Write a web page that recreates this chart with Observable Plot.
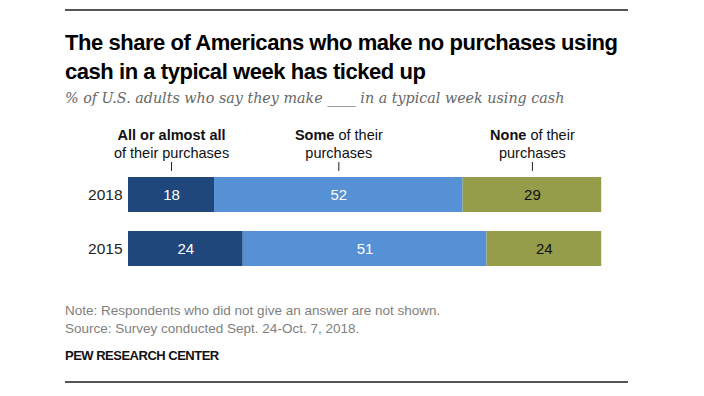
<!DOCTYPE html>
<html>
<head>
<meta charset="utf-8">
<script src="https://cdn.jsdelivr.net/npm/d3@7"></script>
<script src="https://cdn.jsdelivr.net/npm/@observablehq/plot@0.6"></script>
<style>
  html, body { margin: 0; padding: 0; background: #fff; }
  #wrap { position: relative; width: 704px; height: 396px; overflow: hidden; font-family: "Liberation Sans", Arial, sans-serif; }
  .rule { position: absolute; left: 65px; width: 563px; height: 2px; background: #555; }
  #title { position: absolute; left: 65px; top: 28px; font-family: "Liberation Sans", Arial, sans-serif; font-weight: bold; font-size: 22px; line-height: 29px; color: #000; white-space: nowrap; letter-spacing: -0.45px; }
  #subtitle { position: absolute; left: 65px; top: 90px; font-family: "DejaVu Serif", Georgia, serif; font-style: italic; font-size: 14.3px; color: #666; white-space: nowrap; }
  #chart { position: absolute; left: 0; top: 120px; }
  .note { position: absolute; left: 65px; font-size: 13.5px; color: #808080; white-space: nowrap; }
  #pew { position: absolute; left: 65px; top: 348px; font-size: 13px; font-weight: bold; color: #111; white-space: nowrap; letter-spacing: -0.5px; }
</style>
</head>
<body>
<div id="wrap">
  <div class="rule" style="top:9px"></div>
  <div id="title">The share of Americans who make no purchases using<br>cash in a typical week has ticked up</div>
  <div id="subtitle">% of U.S. adults who say they make ____ in a typical week using cash</div>
  <div id="chart"></div>
  <div class="note" style="top:303px">Note: Respondents who did not give an answer are not shown.</div>
  <div class="note" style="top:321px">Source: Survey conducted Sept. 24-Oct. 7, 2018.</div>
  <div id="pew">PEW RESEARCH CENTER</div>
  <div class="rule" style="top:381px"></div>
</div>
<script>
const years = ["2018", "2015"];
const categories = ["All or almost all", "Some", "None"];
const values2018 = [18, 52, 29];
const values2015 = [24, 51, 24];
const headerLine1 = ["All or almost all", "Some of their", "None of their"];
const headerLine2 = ["of their purchases", "purchases", "purchases"];
const headerBold = ["All or almost all", "Some", "None"];
const colors = ["#1f477b", "#5690d5", "#959c4a"];
const labelColors = ["#ffffff", "#ffffff", "#111111"];

const valuesByYear = {"2018": values2018, "2015": values2015};
const data = [];
for (const y of years) {
  categories.forEach((c, i) => data.push({year: y, category: c, value: valuesByYear[y][i], idx: i}));
}
const headerData = data.filter(d => d.year === "2018");

const chart = Plot.plot({
  width: 704,
  height: 156,
  marginTop: 57,
  marginBottom: 10,
  marginLeft: 128,
  marginRight: 98,
  style: {fontFamily: "'Liberation Sans', Arial, sans-serif", background: "transparent"},
  x: {domain: [0, 100], axis: null},
  y: {domain: years, paddingInner: 0.36, paddingOuter: 0, axis: null},
  color: {domain: categories, range: colors},
  marks: [
    Plot.barX(data, Plot.stackX({x: "value", y: "year", fill: "category"})),
    Plot.text(data, Plot.stackX({x: "value", y: "year", text: d => String(d.value), fill: d => labelColors[d.idx], fontSize: 15})),
    Plot.text(years, {y: d => d, text: d => d, frameAnchor: "left", textAnchor: "end", dx: -6, fontSize: 15.5, fill: "#222"}),
    Plot.ruleX(headerData, Plot.stackX({x: "value", stroke: "#222", strokeWidth: 1, insetTop: -15, insetBottom: 95})),
    Plot.text(headerData, Plot.stackX({x: "value", text: d => headerLine1[d.idx] + "\n" + headerLine2[d.idx], frameAnchor: "top", lineAnchor: "bottom", dy: -20, lineHeight: 1.24, fontSize: 14.5, fill: "#111"}))
  ]
});
// make the leading words of each header bold
chart.querySelectorAll("text").forEach(t => {
  const spans = t.querySelectorAll("tspan");
  if (spans.length < 2) return;
  const first = spans[0];
  const line = first.textContent;
  const i = headerLine1.indexOf(line);
  if (i < 0) return;
  const bold = headerBold[i];
  while (first.firstChild) first.removeChild(first.firstChild);
  const b = document.createElementNS("http://www.w3.org/2000/svg", "tspan");
  b.setAttribute("font-weight", "bold");
  b.style.fontWeight = "bold";
  b.textContent = bold;
  first.appendChild(b);
  const rest = line.slice(bold.length);
  if (rest) first.appendChild(document.createTextNode(rest));
});
document.getElementById("chart").appendChild(chart);
</script>
</body>
</html>
